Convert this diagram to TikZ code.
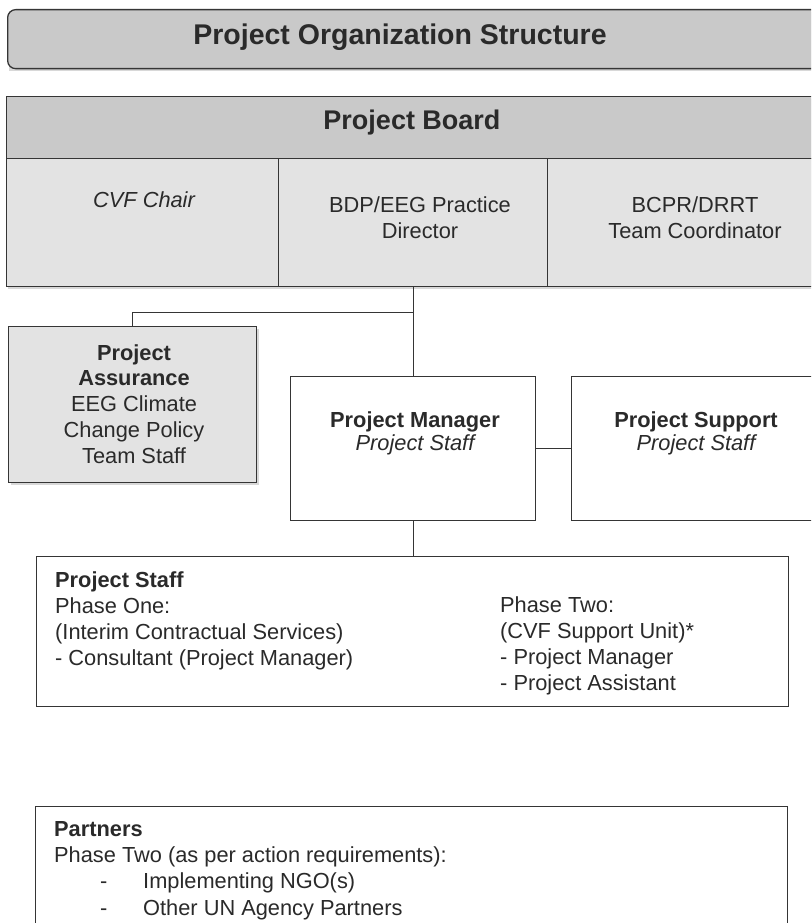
\documentclass[tikz,border=0pt]{standalone}
\usepackage{fontspec}
\setmainfont{Liberation Sans}
\definecolor{linec}{HTML}{353535}
\definecolor{textc}{HTML}{2A2A2A}
\definecolor{darkfill}{HTML}{C9C9C9}
\definecolor{lightfill}{HTML}{E3E3E3}
\definecolor{shadowc}{HTML}{D8D8D8}
\tikzset{
  box/.style={draw=linec, line width=1.3pt, rectangle, anchor=north west, inner sep=0pt},
  conn/.style={draw=linec, line width=1pt},
  txt/.style={text=textc, inner sep=0pt, anchor=base, font=\fontsize{21.8}{25.7}\selectfont},
  txtb/.style={txt, font=\fontsize{21.8}{25.7}\selectfont\bfseries},
  txti/.style={txt, font=\fontsize{21.8}{25.7}\selectfont\itshape},
}
\begin{document}
\begin{tikzpicture}[x=1pt,y=-1pt]
\useasboundingbox (0,0) rectangle (811,923);
\clip (0,0) rectangle (811,923);
\fill[white] (0,0) rectangle (811,923);

% title
\fill[shadowc] (9,12) rectangle (832,71);
\node[box, fill=darkfill, rounded corners=8pt, minimum width=823pt, minimum height=59pt] (title) at (7,9) {};
\node[txtb, font=\fontsize{28.5}{32}\selectfont\bfseries] (titletext) at (400,45) {Project Organization Structure};

% project board
\fill[shadowc] (8,99) rectangle (845,289);
\node[box, fill=darkfill, minimum width=837pt, minimum height=62pt] (hdr) at (6,96) {};
\node[box, fill=lightfill, minimum width=272pt, minimum height=128pt] (c1) at (6,158) {};
\node[box, fill=lightfill, minimum width=269pt, minimum height=128pt] (c2) at (278,158) {};
\node[box, fill=lightfill, minimum width=296pt, minimum height=128pt] (c3) at (547,158) {};
\node[txtb, font=\fontsize{27}{30}\selectfont\bfseries] (hdrtext) at (412,130) {Project Board};
\node[txti] (c1text) at (144,207) {CVF Chair};
\node[txt, align=center] (c2text) at (420,238) {BDP/EEG Practice\\Director};
\node[txt, align=center] (c3text) at (695,238) {BCPR/DRRT\\Team Coordinator};

% project assurance
\fill[shadowc] (11,329) rectangle (259,485);
\node[box, fill=lightfill, minimum width=248pt, minimum height=156pt] (pa) at (8,326) {};
\node[txt, align=center] (patext) at (134,463) {\bfseries Project\\\bfseries Assurance\\EEG Climate\\Change Policy\\Team Staff};

% project manager
\node[box, fill=white, minimum width=245pt, minimum height=144pt] (pm) at (290,376) {};
\node[txtb] (pmtitle) at (415,427) {Project Manager};
\node[txti] (pmsub) at (415,450) {Project Staff};

% project support
\node[box, fill=white, minimum width=250pt, minimum height=144pt] (ps) at (571,376) {};
\node[txtb] (pstitle) at (696,427) {Project Support};
\node[txti] (pssub) at (696,450) {Project Staff};

% project staff
\node[box, fill=white, minimum width=752pt, minimum height=150pt] (staff) at (36,556) {};
\node[txt, anchor=base west, align=left] (staffleft) at (55,665) {\bfseries Project Staff\\Phase One:\\(Interim Contractual Services)\\- Consultant (Project Manager)};
\node[txt, anchor=base west, align=left] (staffright) at (500,690) {Phase Two:\\(CVF Support Unit)*\\- Project Manager\\- Project Assistant};

% partners
\node[box, fill=white, minimum width=752pt, minimum height=150pt] (partners) at (35,806) {};
\node[txt, anchor=base west, align=left] (parthead) at (54,862) {\bfseries Partners\\Phase Two (as per action requirements):};
\node[txt, anchor=base west] (dash1) at (100,888) {-};
\node[txt, anchor=base west] (dash2) at (100,915) {-};
\node[txt, anchor=base west] (item1) at (143,888) {Implementing NGO(s)};
\node[txt, anchor=base west] (item2) at (143,915) {Other UN Agency Partners};

% connectors
\coordinate (branch) at (413,312);
\draw[conn] (hdr.south -| 413,0) ++(0,128) -- (413,376);
\draw[conn] (branch) -- (branch -| pa.north) -- (pa.north);
\draw[conn] (pm.east |- 0,448) -- (ps.west |- 0,448);
\draw[conn] (pm.south -| 413,0) -- (staff.north -| 413,0);
\end{tikzpicture}
\end{document}
